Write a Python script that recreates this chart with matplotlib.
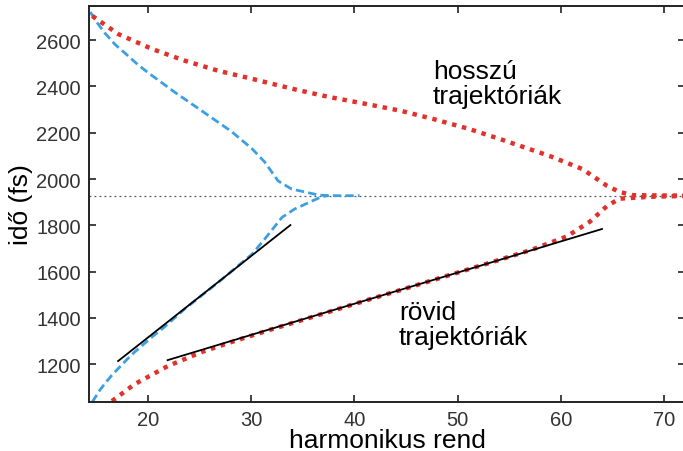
import numpy as np
import matplotlib.pyplot as plt

plt.rcParams["font.family"] = ["Liberation Sans", "DejaVu Sans"]

# long / short trajectory emission times vs. harmonic order
blue_long_x = [14.4, 15.0, 15.8, 16.8, 17.8, 19.0, 20.0, 22.6, 25.2, 28.1, 30.1, 31.3, 32.6, 33.9, 35.2, 36.5, 37.5, 40.5]
blue_long_y = [2722, 2680, 2632, 2582, 2543, 2495, 2460, 2375, 2295, 2205, 2130, 2074, 1992, 1957, 1944, 1931, 1928, 1928]
blue_short_x = [14.6, 15.3, 15.8, 16.5, 17.1, 18.0, 18.7, 19.5, 20.4, 21.5, 23.6, 26.8, 30.1, 31.3, 33.0, 34.2, 35.9, 36.9, 37.5]
blue_short_y = [1036, 1085, 1115, 1152, 1180, 1222, 1252, 1283, 1318, 1357, 1440, 1553, 1676, 1740, 1835, 1870, 1905, 1925, 1928]

red_long_x = [14.6, 17.1, 20.4, 23.6, 26.8, 30.1, 34.0, 37.5, 41.2, 44.5, 47.6, 51.0, 54.1, 58.9, 62.1, 64.5, 65.7, 67.0, 72.0]
red_long_y = [2705, 2627, 2562, 2511, 2468, 2433, 2390, 2355, 2324, 2295, 2260, 2218, 2173, 2100, 2043, 1970, 1944, 1930, 1928]
red_short_x = [16.5, 18.7, 21.9, 25.2, 28.4, 31.6, 34.7, 38.0, 41.2, 45.5, 49.9, 53.5, 57.3, 60.6, 62.8, 64.5, 65.7, 68.6, 72.0]
red_short_y = [1040, 1113, 1191, 1252, 1300, 1345, 1387, 1432, 1476, 1534, 1594, 1643, 1696, 1752, 1815, 1884, 1915, 1923, 1927]

# linear fits to the short branches
fit1_x = [17.1, 33.8]
fit1_y = [1213, 1801]
fit2_x = [21.9, 64.0]
fit2_y = [1217, 1784]

cutoff_time = 1928

fig = plt.figure(figsize=(6.83, 4.52), dpi=100)
ax = fig.add_axes([89 / 683, 49 / 452, 596 / 683, 396 / 452])

ax.axhline(cutoff_time, color="#555555", lw=0.9, ls=(0, (1.5, 2.5)))

blue = "#3d9fe3"
red = "#e2302b"
ax.plot(blue_long_x, blue_long_y, color=blue, lw=2, ls=(0, (3, 1.5)))
ax.plot(blue_short_x, blue_short_y, color=blue, lw=2, ls=(0, (3, 1.5)))
ax.plot(red_long_x, red_long_y, color=red, lw=3.2, ls=(0, (1, 1.3)))
ax.plot(red_short_x, red_short_y, color=red, lw=3.2, ls=(0, (1, 1.3)))
ax.plot(fit1_x, fit1_y, color="black", lw=1.3)
ax.plot(fit2_x, fit2_y, color="black", lw=1.3)

ax.text(47.6, 2520, "hosszú\ntrajektóriák", fontsize=19, va="top", ha="left",
        linespacing=1.05)
ax.text(44.3, 1475, "rövid\ntrajektóriák", fontsize=19, va="top", ha="left",
        linespacing=1.05)

ax.set_xlim(14.28, 72.04)
ax.set_ylim(1036, 2748)
ax.set_xticks([20, 30, 40, 50, 60, 70])
ax.set_yticks([1200, 1400, 1600, 1800, 2000, 2200, 2400, 2600])
ax.tick_params(direction="in", top=True, right=True, length=5, width=1.2,
               labelsize=14.5, colors="#222222", labelcolor="#333333", pad=6)
for s in ax.spines.values():
    s.set_linewidth(1.4)
    s.set_color("#222222")

ax.set_xlabel("harmonikus rend", fontsize=19, labelpad=-1)
ax.set_ylabel("idő (fs)", fontsize=19, labelpad=2)

fig.savefig("out.png", dpi=100)
